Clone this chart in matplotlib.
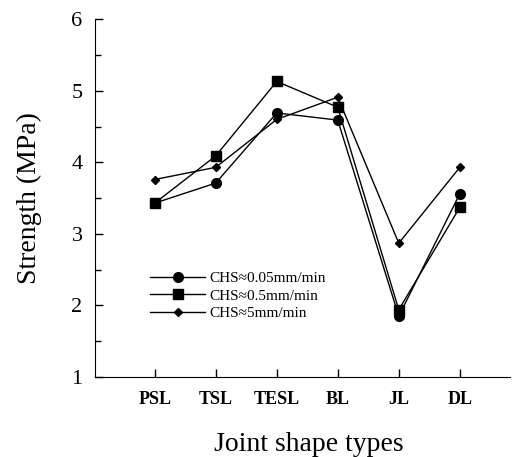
import numpy as np
import matplotlib
matplotlib.use("Agg")
import matplotlib.pyplot as plt
from matplotlib.ticker import MultipleLocator

plt.rcParams['font.family'] = ['Liberation Serif', 'DejaVu Serif']

# joint shape types on the x axis
joints = ["PSL", "TSL", "TESL", "BL", "JL", "DL"]

# strength values (MPa)
chs_005 = [3.43, 3.71, 4.69, 4.59, 1.85, 3.56]
chs_05 = [3.43, 4.09, 5.13, 4.77, 1.94, 3.37]
chs_5 = [3.76, 3.93, 4.60, 4.91, 2.87, 3.93]

labels = ["CHS\u22480.05mm/min", "CHS\u22480.5mm/min", "CHS\u22485mm/min"]

fig = plt.figure(figsize=(5.16, 4.57), dpi=100)
ax = fig.add_axes([0.184, 0.175, 0.804, 0.783])

x = np.arange(len(joints))
ax.plot(x, chs_005, 'k-', marker='o', markersize=7, linewidth=1.0, label=labels[0])
ax.plot(x, chs_05, 'k-', marker='s', markersize=7, linewidth=1.0, label=labels[1])
ax.plot(x, chs_5, 'k-', marker='D', markersize=4.5, linewidth=1.0, label=labels[2])

ax.set_xlim(-0.98, 5.82)
ax.set_ylim(1, 6)
ax.set_xticks(x)
ax.set_xticklabels(joints, fontsize=13, fontweight='bold')
ax.yaxis.set_major_locator(MultipleLocator(1))
ax.yaxis.set_minor_locator(MultipleLocator(0.5))
for t in ax.get_yticklabels():
    t.set_fontsize(16)
ax.tick_params(axis='both', direction='in', length=6, width=1)
ax.tick_params(axis='y', which='minor', direction='in', length=4, width=1)
ax.tick_params(axis='x', pad=10)
ax.tick_params(axis='y', pad=9)

ax.spines['top'].set_visible(False)
ax.spines['right'].set_visible(False)

ax.set_ylabel("Strength (MPa)", fontsize=20)
ax.yaxis.set_label_coords(-0.128, 0.5)
ax.set_xlabel("Joint shape types", fontsize=20, labelpad=14)
ax.xaxis.set_label_coords(0.515, -0.155)

ax.legend(loc='upper left', bbox_to_anchor=(0.118, 0.312), frameon=False,
          fontsize=11, handlelength=3.6, labelspacing=0.25, handletextpad=0.3,
          borderaxespad=0)

fig.savefig("out.png", dpi=100)
